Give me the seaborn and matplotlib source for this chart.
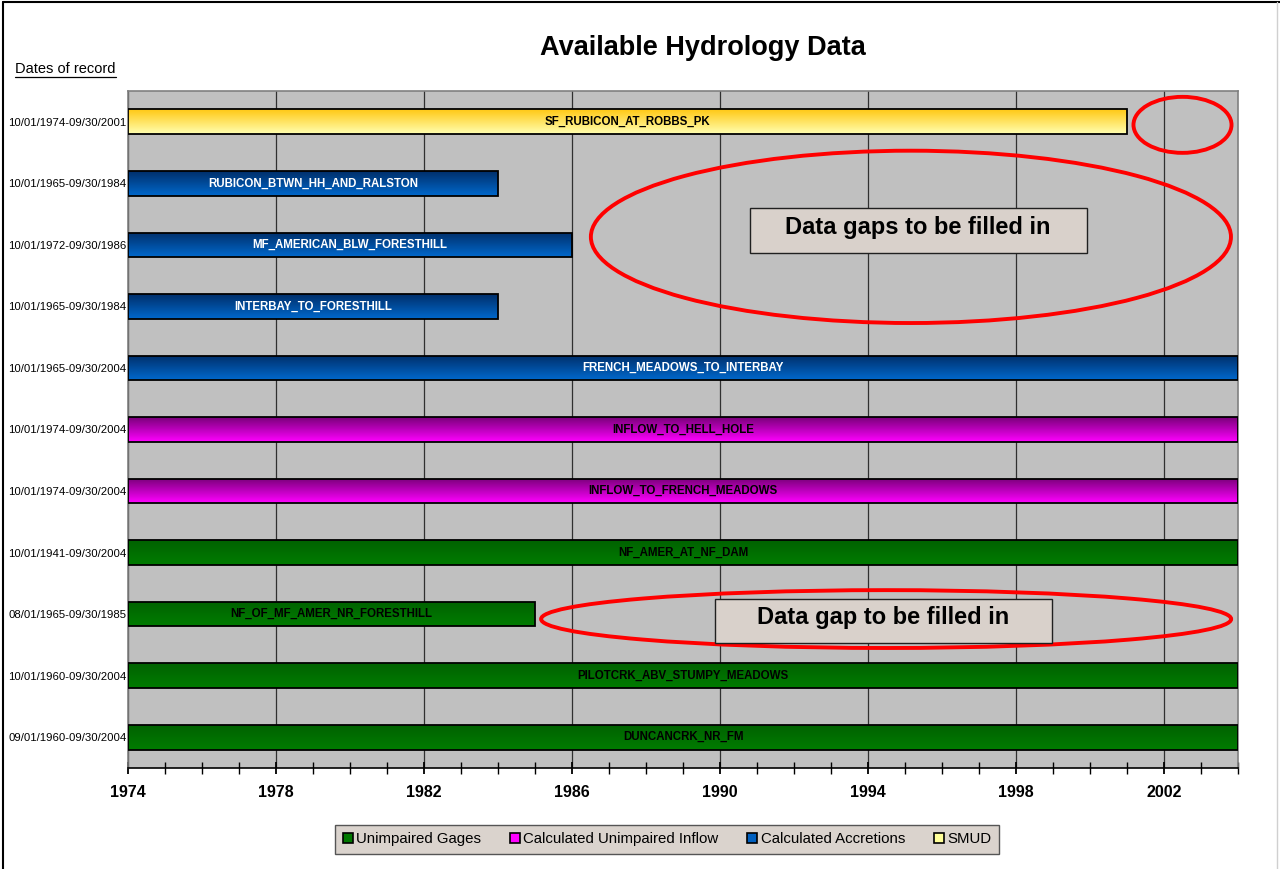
import numpy as np
import pandas as pd
import matplotlib
matplotlib.use('Agg')
import matplotlib.pyplot as plt
import seaborn as sns
from matplotlib.colors import LinearSegmentedColormap
from matplotlib.patches import Ellipse, Rectangle
from matplotlib.lines import Line2D

# ---------------------------------------------
# Data
# ---------------------------------------------
gages = ["SF_RUBICON_AT_ROBBS_PK", "RUBICON_BTWN_HH_AND_RALSTON",
         "MF_AMERICAN_BLW_FORESTHILL", "INTERBAY_TO_FORESTHILL",
         "FRENCH_MEADOWS_TO_INTERBAY", "INFLOW_TO_HELL_HOLE",
         "INFLOW_TO_FRENCH_MEADOWS", "NF_AMER_AT_NF_DAM",
         "NF_OF_MF_AMER_NR_FORESTHILL", "PILOTCRK_ABV_STUMPY_MEADOWS",
         "DUNCANCRK_NR_FM"]
record_dates = ["10/01/1974-09/30/2001", "10/01/1965-09/30/1984",
                "10/01/1972-09/30/1986", "10/01/1965-09/30/1984",
                "10/01/1965-09/30/2004", "10/01/1974-09/30/2004",
                "10/01/1974-09/30/2004", "10/01/1941-09/30/2004",
                "08/01/1965-09/30/1985", "10/01/1960-09/30/2004",
                "09/01/1960-09/30/2004"]
# bars are shown from the start of the chart window (1974)
start_year = [1974, 1974, 1974, 1974, 1974, 1974, 1974, 1974, 1974, 1974, 1974]
end_year   = [2001, 1984, 1986, 1984, 2004, 2004, 2004, 2004, 1985, 2004, 2004]
category = ["SMUD", "Calculated Accretions", "Calculated Accretions",
            "Calculated Accretions", "Calculated Accretions",
            "Calculated Unimpaired Inflow", "Calculated Unimpaired Inflow",
            "Unimpaired Gages", "Unimpaired Gages", "Unimpaired Gages",
            "Unimpaired Gages"]
legend_order = ["Unimpaired Gages", "Calculated Unimpaired Inflow",
                "Calculated Accretions", "SMUD"]
year_ticks = [1974, 1978, 1982, 1986, 1990, 1994, 1998, 2002]

# gradient (top, bottom) and legend colour per category
grad_colors = {
    "Unimpaired Gages":             ("#006200", "#007c00"),
    "Calculated Unimpaired Inflow": ("#7a007a", "#ff00ff"),
    "Calculated Accretions":        ("#002f6a", "#0068cc"),
    "SMUD":                         ("#ffc814", "#ffffb0"),
}
legend_colors = {
    "Unimpaired Gages": "#007800",
    "Calculated Unimpaired Inflow": "#ff00ff",
    "Calculated Accretions": "#0060c0",
    "SMUD": "#ffff99",
}
label_colors = {
    "Unimpaired Gages": "black",
    "Calculated Unimpaired Inflow": "black",
    "Calculated Accretions": "white",
    "SMUD": "black",
}

df = pd.DataFrame({"gage": gages, "dates": record_dates, "start": start_year,
                   "end": end_year, "category": category})

# ---------------------------------------------
# Figure
# ---------------------------------------------
sns.set_style("white")
plt.rcParams['font.family'] = ['Liberation Sans', 'DejaVu Sans']
plt.rcParams['text.color'] = 'black'
plt.rcParams['xtick.color'] = 'black'
plt.rcParams['ytick.color'] = 'black'

fig = plt.figure(figsize=(12.8, 8.69), dpi=100)
ax = fig.add_axes([128/1280, 1 - 768/869, (1238 - 128)/1280, (768 - 91)/869])
ax.set_facecolor("#c0c0c0")

sns.barplot(data=df, x="end", y="gage", order=gages, orient="h",
            color="#888888", width=0.4, edgecolor="black", linewidth=1.3,
            ax=ax)

# move bars to start at their start year, then paint gradients
for patch, (_, row) in zip(ax.patches, df.iterrows()):
    patch.set_x(row["start"])
    patch.set_width(row["end"] - row["start"])
    patch.set_facecolor("none")
    patch.set_zorder(4)
    top, bot = grad_colors[row["category"]]
    cmap = LinearSegmentedColormap.from_list("g", [top, bot])
    x0 = patch.get_x(); w = patch.get_width()
    y0 = patch.get_y(); h = patch.get_height()
    grad = np.linspace(0, 1, 64).reshape(-1, 1)
    im = ax.imshow(grad, extent=(x0, x0 + w, y0 + h, y0), origin="upper",
                   aspect="auto", cmap=cmap, zorder=3, interpolation="bilinear")
    im.set_clip_path(patch)
    ax.text(x0 + w / 2, y0 + h / 2, row["gage"], ha="center", va="center",
            fontsize=8.3, fontweight="bold", color=label_colors[row["category"]],
            zorder=5)

ax.set_xlim(1974, 2004)
ax.set_ylim(10.5, -0.5)

# axis ticks / grid
ax.set_xticks(year_ticks)
ax.set_xticks(np.arange(1974, 2005, 1), minor=True)
ax.set_xticklabels([str(y) for y in year_ticks], fontsize=11.5, fontweight="bold")
ax.tick_params(axis="x", which="major", direction="inout", length=9, width=1.3,
               pad=8, bottom=True)
ax.tick_params(axis="x", which="minor", direction="inout", length=8, width=1,
               bottom=True)
ax.set_yticks(range(len(gages)))
ax.set_yticklabels(record_dates, fontsize=8.2)
ax.tick_params(axis="y", length=0, pad=1)
ax.grid(axis="x", which="major", color="#303030", linewidth=0.9, zorder=1)
ax.set_axisbelow(True)
ax.set_xlabel("")
ax.set_ylabel("")
for side in ["left", "top", "right"]:
    ax.spines[side].set_color("#808080")
    ax.spines[side].set_linewidth(1.2)
ax.spines["bottom"].set_color("black")
ax.spines["bottom"].set_linewidth(1.2)

# annotation ellipses and boxes
ell_kw = dict(facecolor="none", edgecolor="red", linewidth=2.8, zorder=6, clip_on=False)
ax.add_patch(Ellipse((2002.5, 0.05), 2.65, 0.91, **ell_kw))
ax.add_patch(Ellipse((1995.16, 1.87), 17.3, 2.8, **ell_kw))
ax.add_patch(Ellipse((1994.49, 8.08), 18.65, 0.94, **ell_kw))

box_kw = dict(facecolor="#d9d1cb", edgecolor="#202020", linewidth=1.0, zorder=6)
ax.add_patch(Rectangle((1990.81, 1.40), 9.11, 0.73, **box_kw))
ax.text(1995.35, 1.72, "Data gaps to be filled in", ha="center", va="center",
        fontsize=17, fontweight="bold", zorder=7)
ax.add_patch(Rectangle((1989.86, 7.75), 9.11, 0.72, **box_kw))
ax.text(1994.41, 8.06, "Data gap to be filled in", ha="center", va="center",
        fontsize=17, fontweight="bold", zorder=7)

# title and "Dates of record"
fig.text(703/1280, 1 - 48/869, "Available Hydrology Data", ha="center",
         va="center", fontsize=19.5, fontweight="bold")
dr = fig.text(15/1280, 1 - 69/869, "Dates of record", ha="left", va="center",
              fontsize=10.5)

# legend
handles = [Line2D([0], [0], marker="s", linestyle="none", markersize=7,
                  markerfacecolor=legend_colors[c], markeredgecolor="black",
                  markeredgewidth=1.2) for c in legend_order]
leg = fig.legend(handles, legend_order, loc="center", ncol=4,
                 bbox_to_anchor=(667/1280, 1 - 839/869), fontsize=10.8,
                 frameon=True, fancybox=False, framealpha=1,
                 facecolor="#dad3cd", edgecolor="#555555",
                 handlelength=0.7, handletextpad=0.2, columnspacing=1.9,
                 borderpad=0.5)
leg.get_frame().set_linewidth(1.0)

# underline + figure border
fig.canvas.draw()
bb = dr.get_window_extent(fig.canvas.get_renderer())
inv = fig.transFigure.inverted()
(ux0, uy), (ux1, _) = inv.transform([(bb.x0, bb.y0 - 1), (bb.x1, bb.y0 - 1)])
fig.add_artist(Line2D([ux0, ux1], [uy, uy], color="black", linewidth=0.9,
                      transform=fig.transFigure))
fig.add_artist(Line2D([3/1280, 3/1280], [0, 1 - 2/869], color="black",
                      linewidth=1.5, transform=fig.transFigure))
fig.add_artist(Line2D([3/1280, 1], [1 - 2/869, 1 - 2/869], color="black",
                      linewidth=1.5, transform=fig.transFigure))
fig.add_artist(Line2D([1277/1280, 1277/1280], [0, 1 - 2/869], color="#d0d0d0",
                      linewidth=1.0, transform=fig.transFigure))

fig.savefig("out.png", dpi=100)
plt.close(fig)
